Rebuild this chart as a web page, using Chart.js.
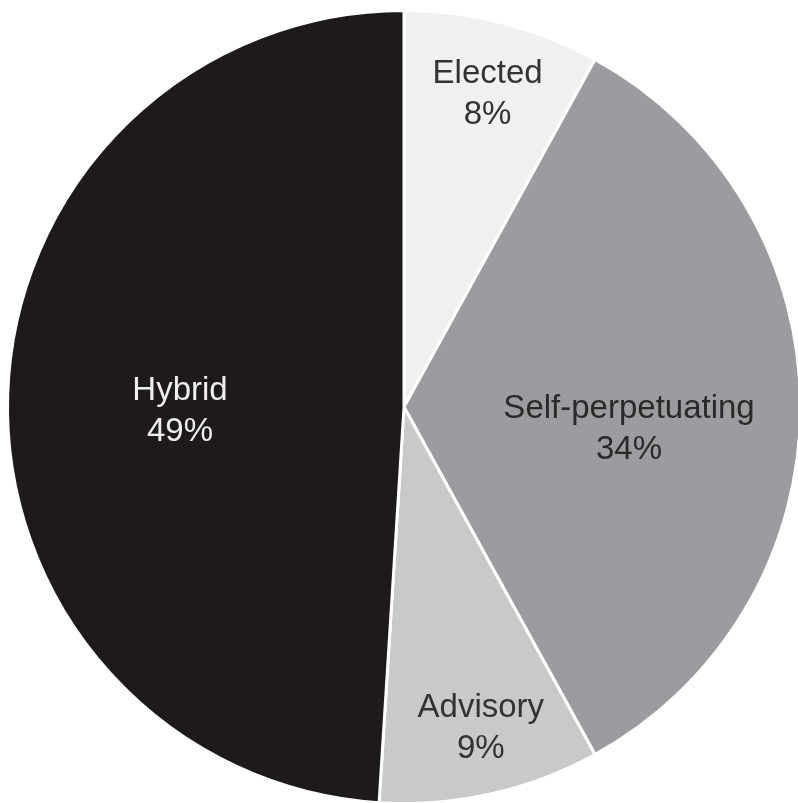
<!DOCTYPE html>
<html>
<head>
<meta charset="utf-8">
<script src="https://cdn.jsdelivr.net/npm/chart.js@4.4.1/dist/chart.umd.min.js"></script>
<style>
  html, body { margin: 0; padding: 0; background: #fff; overflow: hidden; }
  #wrap { width: 802px; height: 805px; }
</style>
</head>
<body>
<div id="wrap"><canvas id="pieChart"></canvas></div>
<script>
const categories = ['Elected', 'Self-perpetuating', 'Advisory', 'Hybrid'];
const shares = [8, 34, 9, 49];

const sliceColors = ['#f0f0f2', '#9c9ca0', '#c9c9cb', '#1e1a1b'];
const labelColors = ['#333333', '#2a2a2a', '#333333', '#eeeeee'];
// label placement: fraction of radius, and small angular nudge in degrees
const labelRadius = [0.82, 0.57, 0.83, 0.565];
const labelNudge = [0.5, 5.3, -0.9, -2.6];

const sliceLabels = {
  id: 'sliceLabels',
  afterDatasetsDraw(chart) {
    const ctx = chart.ctx;
    const meta = chart.getDatasetMeta(0);
    ctx.save();
    ctx.font = '33px "Liberation Sans", Arial, sans-serif';
    ctx.textAlign = 'center';
    ctx.textBaseline = 'middle';
    meta.data.forEach((arc, i) => {
      const p = arc.getProps(['x', 'y', 'startAngle', 'endAngle', 'outerRadius'], true);
      const mid = (p.startAngle + p.endAngle) / 2 + labelNudge[i] * Math.PI / 180;
      const r = p.outerRadius * labelRadius[i];
      const x = p.x + Math.cos(mid) * r;
      const y = p.y + Math.sin(mid) * r;
      ctx.fillStyle = labelColors[i];
      ctx.fillText(categories[i], x, y - 19);
      ctx.fillText(shares[i] + '%', x, y + 22);
    });
    ctx.restore();
  }
};

new Chart(document.getElementById('pieChart'), {
  type: 'pie',
  data: {
    labels: categories,
    datasets: [{
      data: shares,
      backgroundColor: sliceColors,
      borderColor: '#ffffff',
      borderWidth: 3
    }]
  },
  options: {
    responsive: true,
    maintainAspectRatio: false,
    animation: false,
    layout: { padding: { left: 6, right: 0, top: 9, bottom: 0 } },
    plugins: {
      legend: { display: false },
      tooltip: { enabled: false }
    }
  },
  plugins: [sliceLabels]
});
</script>
</body>
</html>
